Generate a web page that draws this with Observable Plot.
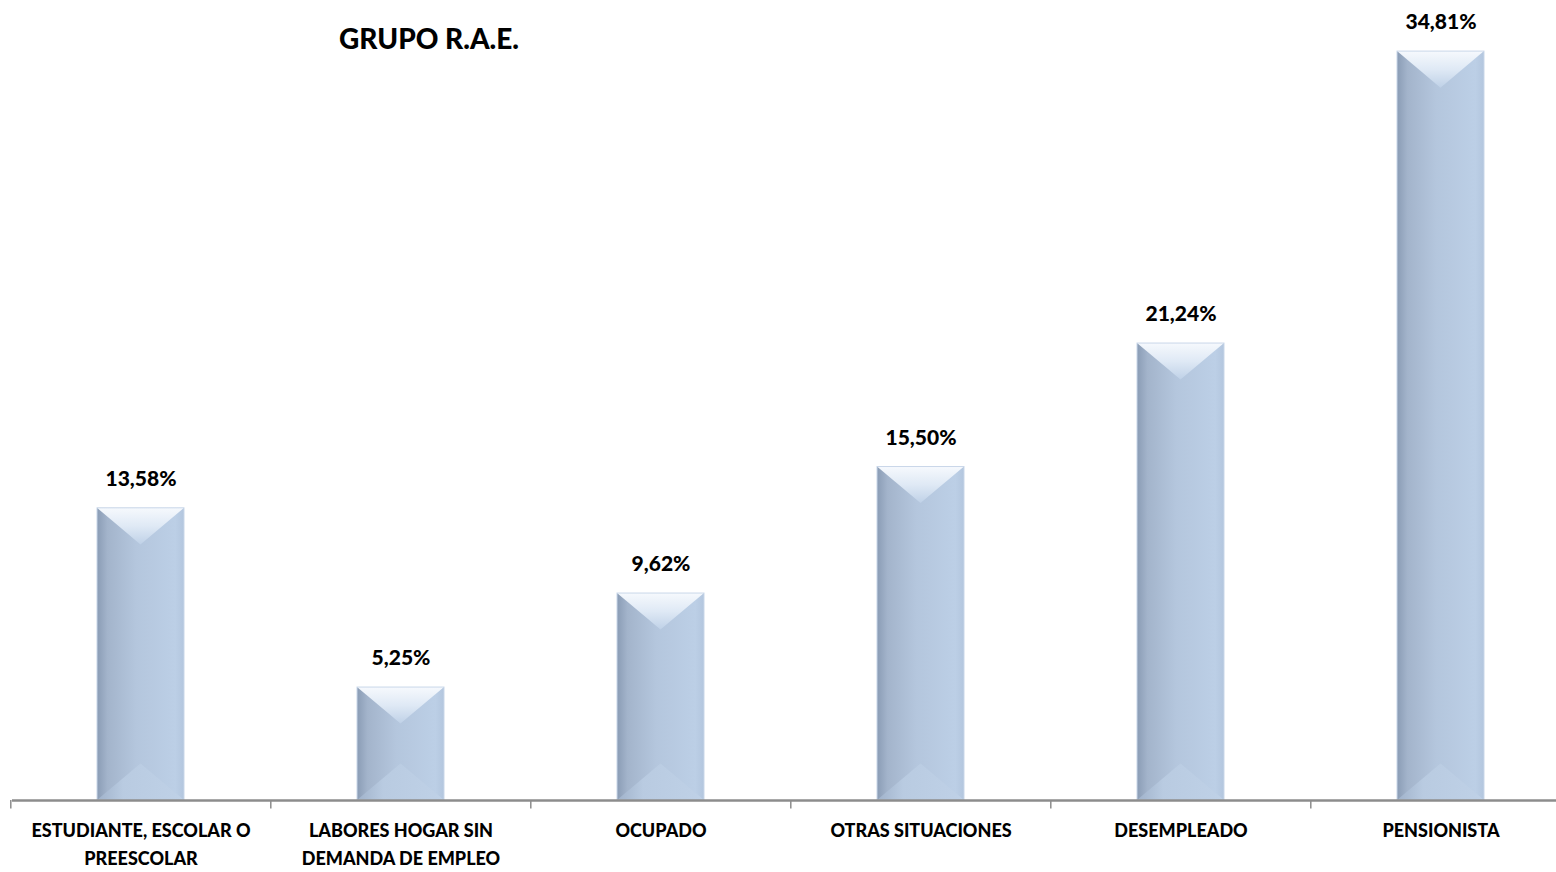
<!DOCTYPE html>
<html>
<head>
<meta charset="utf-8">
<script src="https://cdn.jsdelivr.net/npm/d3@7"></script>
<script src="https://cdn.jsdelivr.net/npm/@observablehq/plot@0.6"></script>
<style>
  html, body { margin: 0; padding: 0; background: #fff; }
  #wrap { position: relative; width: 1556px; height: 872px; overflow: hidden; }
  #title { position: absolute; left: 0; top: 21px; width: 858px; text-align: center;
           font-family: Lato, "Open Sans", sans-serif; font-weight: 900; font-size: 28px; color: #000; }
</style>
</head>
<body>
<div id="wrap"><div id="title">GRUPO R.A.E.</div></div>
<script>
const categories = ["ESTUDIANTE, ESCOLAR O PREESCOLAR", "LABORES HOGAR SIN DEMANDA DE EMPLEO", "OCUPADO", "OTRAS SITUACIONES", "DESEMPLEADO", "PENSIONISTA"];
const tickLine1 = ["ESTUDIANTE, ESCOLAR O", "LABORES HOGAR SIN", "OCUPADO", "OTRAS SITUACIONES", "DESEMPLEADO", "PENSIONISTA"];
const tickLine2 = ["PREESCOLAR", "DEMANDA DE EMPLEO", "", "", "", ""];
const values = [13.58, 5.25, 9.62, 15.50, 21.24, 34.81];
const valueLabels = ["13,58%", "5,25%", "9,62%", "15,50%", "21,24%", "34,81%"];

const data = categories.map((c, i) => ({cat: c, value: values[i], label: valueLabels[i], l1: tickLine1[i], l2: tickLine2[i]}));

const NS = "http://www.w3.org/2000/svg";
function bevel(index, scales, vals, dims, context, next) {
  const g = next(index, scales, vals, dims, context);
  const rects = Array.from(g.querySelectorAll("rect"));
  for (const r of rects) {
    const x = +r.getAttribute("x"), y = +r.getAttribute("y");
    const w = +r.getAttribute("width"), h = +r.getAttribute("height");
    const d = Math.min(w * 0.42, h / 2);
    const top = document.createElementNS(NS, "polygon");
    top.setAttribute("points", `${x},${y} ${x + w},${y} ${x + w / 2},${y + d}`);
    top.setAttribute("fill", "url(#topGrad)");
    g.appendChild(top);
    const bot = document.createElementNS(NS, "polygon");
    bot.setAttribute("points", `${x},${y + h} ${x + w},${y + h} ${x + w / 2},${y + h - d}`);
    bot.setAttribute("fill", "url(#botGrad)");
    g.appendChild(bot);
    const edge = document.createElementNS(NS, "rect");
    edge.setAttribute("x", x); edge.setAttribute("y", y);
    edge.setAttribute("width", w); edge.setAttribute("height", h);
    edge.setAttribute("fill", "none"); edge.setAttribute("stroke", "#c9d7e9"); edge.setAttribute("stroke-width", 1);
    g.appendChild(edge);
  }
  return g;
}

const chart = Plot.plot({
  width: 1556,
  height: 872,
  marginTop: 47,
  marginBottom: 72,
  marginLeft: 12,
  marginRight: 0,
  style: {fontFamily: "Lato, 'Open Sans', sans-serif", background: "transparent", overflow: "visible"},
  x: {domain: categories, range: [10, 1572], paddingInner: 0.665, paddingOuter: 0.3325, axis: null},
  y: {domain: [0, 35], axis: null},
  marks: [
    () => {
      const svg = document.createElementNS(NS, "defs");
      svg.innerHTML = `
        <linearGradient id="barGrad" x1="0" x2="1" y1="0" y2="0">
          <stop offset="0" stop-color="#8a9cb5"/>
          <stop offset="0.12" stop-color="#a3b4cb"/>
          <stop offset="0.45" stop-color="#b4c6dd"/>
          <stop offset="0.9" stop-color="#bccfe6"/>
          <stop offset="1" stop-color="#b3c6de"/>
        </linearGradient>
        <linearGradient id="topGrad" x1="0" x2="0" y1="0" y2="1">
          <stop offset="0" stop-color="#f6f9fd"/>
          <stop offset="0.5" stop-color="#dfe9f5"/>
          <stop offset="1" stop-color="#bfd1e7"/>
        </linearGradient>
        <linearGradient id="botGrad" x1="0" x2="1" y1="0" y2="0">
          <stop offset="0" stop-color="#a0b2ca"/>
          <stop offset="0.3" stop-color="#b9cbe1"/>
          <stop offset="1" stop-color="#bfd1e7"/>
        </linearGradient>`;
      return svg;
    },
    Plot.barY(data, {x: "cat", y: "value", fill: "url(#barGrad)", render: bevel}),
    Plot.ruleY([0], {stroke: "#8c8c8c", strokeWidth: 2.5}),
    Plot.ruleX(data, {x: "cat", dx: -130.2, y1: 0, y2: -0.4, stroke: "#8c8c8c", strokeWidth: 1.5}),
    Plot.text(data, {x: "cat", y: "value", text: "label", dy: -29, fontSize: 21, fontWeight: 900, fill: "#000"}),
    Plot.text(data, {x: "cat", y: 0, text: "l1", dy: 31, fontSize: 18, fontWeight: 900, fill: "#000"}),
    Plot.text(data, {x: "cat", y: 0, text: "l2", dy: 59, fontSize: 18, fontWeight: 900, fill: "#000"})
  ]
});
document.getElementById("wrap").appendChild(chart);
</script>
</body>
</html>
